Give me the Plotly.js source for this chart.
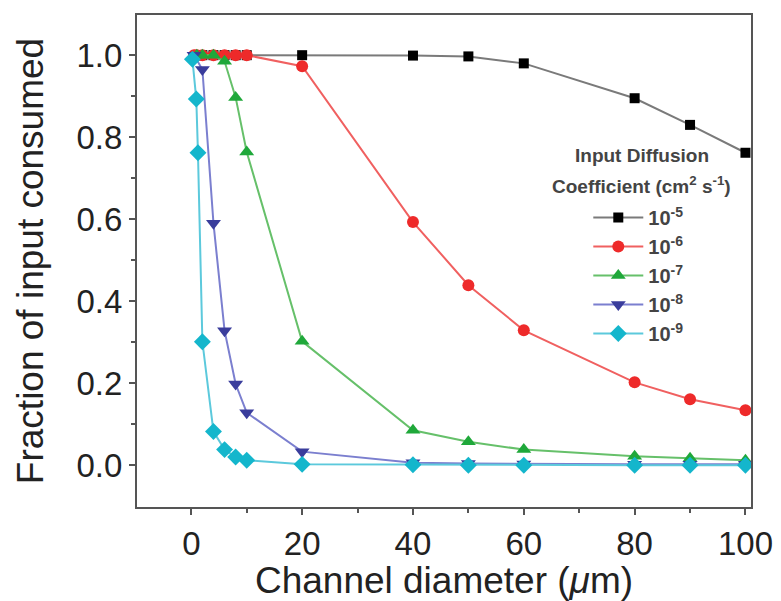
<!DOCTYPE html>
<html>
<head>
<meta charset="utf-8">
<script src="https://cdn.plot.ly/plotly-3.0.1.min.js"></script>
<style>html,body{margin:0;padding:0;background:#fff;}#chart{width:781px;height:601px;}</style>
</head>
<body>
<div id="chart"></div>
<script>
// Series data
const x_e5 = [1, 2, 4, 6, 8, 10, 20, 40, 50, 60, 80, 90, 100];
const y_e5 = [1.0, 1.0, 1.0, 1.0, 1.0, 1.0, 1.0, 0.999, 0.997, 0.98, 0.895, 0.83, 0.762];

const x_e6 = [0.5, 1, 2, 4, 6, 8, 10, 20, 40, 50, 60, 80, 90, 100];
const y_e6 = [1.0, 1.0, 1.0, 1.0, 1.0, 1.0, 1.0, 0.973, 0.593, 0.439, 0.329, 0.202, 0.161, 0.134];

const x_e7 = [1, 2, 4, 6, 8, 10, 20, 40, 50, 60, 80, 90, 100];
const y_e7 = [1.0, 1.0, 1.0, 0.985, 0.897, 0.764, 0.302, 0.085, 0.057, 0.038, 0.022, 0.017, 0.012];

const x_e8 = [0.5, 2, 4, 6, 8, 10, 20, 40, 50, 60, 80, 90, 100];
const y_e8 = [1.0, 0.965, 0.59, 0.328, 0.198, 0.128, 0.033, 0.006, 0.004, 0.003, 0.002, 0.002, 0.002];

const x_e9 = [0.2, 0.9, 1.2, 2, 4, 6, 8, 10, 20, 40, 50, 60, 80, 90, 100];
const y_e9 = [0.99, 0.893, 0.762, 0.301, 0.082, 0.038, 0.02, 0.012, 0.002, 0.001, 0.0, 0.0, 0.0, 0.0, 0.0];

const seriesNames = ["10<sup>-5</sup>", "10<sup>-6</sup>", "10<sup>-7</sup>", "10<sup>-8</sup>", "10<sup>-9</sup>"];
const legendTitleLines = ["Input Diffusion", "Coefficient (cm<sup>2</sup> s<sup>-1</sup>)"];

const FONT = "Liberation Sans, Arial, Helvetica, sans-serif";

function tr(x, y, name, lineColor, markerColor, symbol, size) {
  return {
    x: x, y: y, name: name, type: "scatter", mode: "lines+markers",
    line: {color: lineColor, width: 2},
    marker: {color: markerColor, symbol: symbol, size: size}
  };
}

const data = [
  tr(x_e5, y_e5, seriesNames[0], "#7a7a7a", "#000000", "square", 10),
  tr(x_e6, y_e6, seriesNames[1], "#f06060", "#ee2a2a", "circle", 12),
  tr(x_e7, y_e7, seriesNames[2], "#66c06a", "#1fa83a", "triangle-up", 13),
  tr(x_e8, y_e8, seriesNames[3], "#7b7fcf", "#3a3d9c", "triangle-down", 13),
  tr(x_e9, y_e9, seriesNames[4], "#5cc9dc", "#14b6cc", "diamond", 13)
];

const axisCommon = {
  showline: true, linecolor: "#555", linewidth: 2, mirror: true,
  ticks: "outside", ticklen: 6, tickwidth: 2, tickcolor: "#555",
  showgrid: false, zeroline: false,
  tickfont: {family: FONT, size: 33, color: "#222"}
};

const titleFont = {family: FONT, size: 19, color: "#444", weight: "bold"};

const layout = {
  width: 781, height: 601,
  margin: {l: 137, r: 30, t: 15, b: 94},
  paper_bgcolor: "#fff", plot_bgcolor: "#fff",
  font: {family: FONT, color: "#222"},
  showlegend: true,
  xaxis: Object.assign({}, axisCommon, {
    range: [-9.8, 101], tickvals: [0, 20, 40, 60, 80, 100],
    minor: {tickvals: [10, 30, 50, 70, 90], ticks: "outside", ticklen: 4, tickwidth: 2, tickcolor: "#555"},
    title: {text: "Channel diameter (<i>μ</i>m)", font: {family: FONT, size: 37, color: "#222"}, standoff: 2}
  }),
  yaxis: Object.assign({}, axisCommon, {
    range: [-0.102, 1.098], tickvals: [0, 0.2, 0.4, 0.6, 0.8, 1.0], tickformat: ".1f",
    minor: {tickvals: [0.1, 0.3, 0.5, 0.7, 0.9], ticks: "outside", ticklen: 4, tickwidth: 2, tickcolor: "#555"},
    title: {text: "Fraction of input consumed", font: {family: FONT, size: 37, color: "#222"}, standoff: 22}
  }),
  legend: {
    x: 0.735, y: 0.628, xanchor: "left", yanchor: "top",
    bgcolor: "rgba(0,0,0,0)", borderwidth: 0,
    font: {family: FONT, size: 20, color: "#444", weight: "bold"},
    itemwidth: 50, tracegroupgap: 0
  },
  annotations: [
    {text: legendTitleLines[0], xref: "paper", yref: "paper", x: 0.822, y: 1 - (155 - 15) / 492,
     xanchor: "center", yanchor: "middle", showarrow: false, font: titleFont},
    {text: legendTitleLines[1], xref: "paper", yref: "paper", x: 0.822, y: 1 - (185 - 15) / 492,
     xanchor: "center", yanchor: "middle", showarrow: false, font: titleFont}
  ]
};

Plotly.newPlot("chart", data, layout, {displayModeBar: false, staticPlot: true});
</script>
</body>
</html>
